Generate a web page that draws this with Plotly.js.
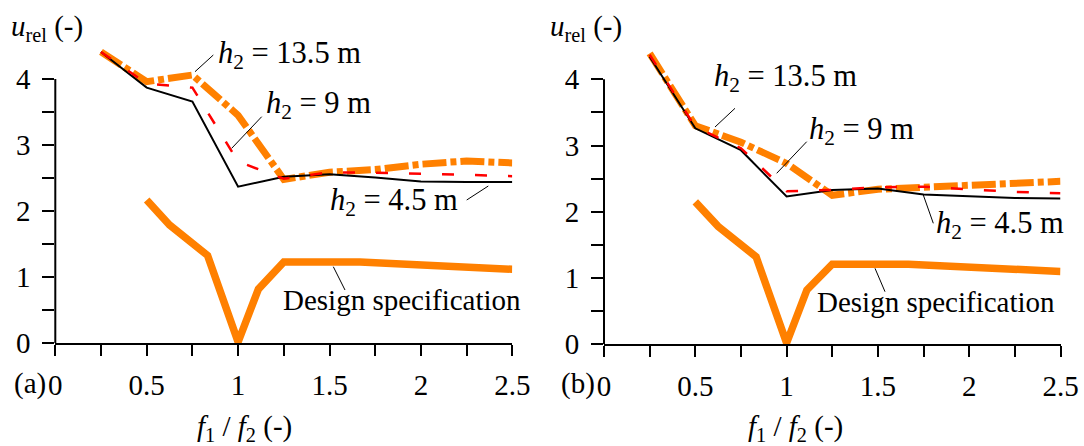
<!DOCTYPE html>
<html>
<head>
<meta charset="utf-8">
<script src="https://cdn.plot.ly/plotly-3.0.1.min.js"></script>
<style>html,body{margin:0;padding:0;background:#fff;}#chart{width:1084px;height:446px;}</style>
</head>
<body>
<div id="chart"></div>
<script>
// ---- data ----
const xH = [0.25, 0.5, 0.75, 1, 1.25, 1.5, 1.75, 2, 2.25, 2.5];
const xDesign = [0.5, 0.625, 0.833, 1, 1.111, 1.25, 1.5, 1.667, 2.5];
// panel (a)
const aH45 = [4.41, 3.87, 3.66, 2.37, 2.52, 2.56, 2.51, 2.45, 2.44, 2.44];
const aH9 = [4.41, 3.93, 3.87, 2.75, 2.49, 2.59, 2.58, 2.57, 2.55, 2.53];
const aH135 = [4.41, 3.96, 4.06, 3.45, 2.48, 2.59, 2.63, 2.71, 2.76, 2.73];
const aDesign = [2.17, 1.79, 1.33, 0.02, 0.82, 1.23, 1.23, 1.23, 1.12];
// panel (b)
const bH45 = [4.34, 3.26, 2.93, 2.23, 2.33, 2.35, 2.26, 2.23, 2.21, 2.20];
const bH9 = [4.37, 3.28, 2.96, 2.31, 2.33, 2.37, 2.38, 2.34, 2.30, 2.28];
const bH135 = [4.39, 3.30, 3.05, 2.73, 2.25, 2.34, 2.37, 2.40, 2.44, 2.46];
const bDesign = [2.15, 1.78, 1.32, 0.02, 0.82, 1.21, 1.21, 1.21, 1.10];
// ticks
const xTickVals = [0, 0.5, 1, 1.5, 2, 2.5];
const xTickText = ['0', '0.5', '1', '1.5', '2', '2.5'];
const yTickVals = [0, 1, 2, 3, 4];
const yTickText = ['0', '1', '2', '3', '4'];
// labels
const lab135 = '<i>h</i><sub>2</sub> = 13.5 m';
const lab9 = '<i>h</i><sub>2</sub> = 9 m';
const lab45 = '<i>h</i><sub>2</sub> = 4.5 m';
const labDesign = 'Design specification';
const yTitle = '<i>u</i><sub>rel</sub> (-)';
const xTitle = '<i>f</i><sub>1</sub> / <i>f</i><sub>2</sub> (-)';
const panelLabels = ['(a)', '(b)'];

// ---- style ----
const W = 1084, H = 446;
const FONT = 'Liberation Serif';
const ORANGE = '#FF8000';
const px = v => v / W;
const py = v => 1 - v / H;

function traces(xa, ya, h45, h9, h135, des) {
  return [
    {x: xDesign, y: des, xaxis: xa, yaxis: ya, mode: 'lines', line: {color: ORANGE, width: 7.5}},
    {x: xH, y: h135, xaxis: xa, yaxis: ya, mode: 'lines', line: {color: ORANGE, width: 7, dash: '24px,4px,6px,4px'}},
    {x: xH, y: h45, xaxis: xa, yaxis: ya, mode: 'lines', line: {color: '#000', width: 2}},
    {x: xH, y: h9, xaxis: xa, yaxis: ya, mode: 'lines', line: {color: '#FF0000', width: 2.5, dash: '12px,21px'}}
  ];
}

const data = [
  ...traces('x', 'y', aH45, aH9, aH135, aDesign),
  ...traces('x2', 'y2', bH45, bH9, bH135, bDesign)
];

function xAxis(domain, anchor) {
  return {
    domain: domain, anchor: anchor, range: [0, 2.5],
    tickvals: xTickVals, ticktext: xTickText,
    ticks: 'outside', ticklen: 11, tickwidth: 2, tickcolor: '#000',
    minor: {tickvals: [0.25, 0.75, 1.25, 1.75, 2.25], ticks: 'outside', ticklen: 11, tickwidth: 2, tickcolor: '#000'},
    showline: true, linewidth: 2, linecolor: '#000',
    showgrid: false, zeroline: false,
    tickfont: {family: FONT, size: 29, color: '#000'},
    ticklabelstandoff: 4
  };
}
function yAxis(domain, anchor) {
  return {
    domain: domain, anchor: anchor, range: [0, 4.48],
    tickvals: yTickVals, ticktext: yTickText,
    ticks: 'outside', ticklen: 12, tickwidth: 2, tickcolor: '#000',
    minor: {tickvals: [0.5, 1.5, 2.5, 3.5], ticks: 'outside', ticklen: 12, tickwidth: 2, tickcolor: '#000'},
    showline: false, showgrid: false, zeroline: false,
    tickfont: {family: FONT, size: 29, color: '#000'},
    ticklabelstandoff: 6
  };
}

const ax = [55.3, 604];   // x pixel of f1/f2 = 0 for each panel

function ann(text, x, y, xanchor, size) {
  return {text: text, xref: 'paper', yref: 'paper', x: px(x), y: py(y),
    xanchor: xanchor || 'left', yanchor: 'middle', showarrow: false,
    font: {family: FONT, size: size || 29, color: '#000'}};
}
function leader(x0, y0, x1, y1) {
  return {type: 'line', xref: 'paper', yref: 'paper', x0: px(x0), y0: py(y0), x1: px(x1), y1: py(y1),
    line: {color: '#000', width: 1}};
}

const annotations = [
  ann(lab135, 216, 55, 'left', 30.5), ann(lab9, 264, 105, 'left', 30.5), ann(lab45, 328, 202, 'left', 30.5), ann(labDesign, 281, 300),
  ann(lab135, 712, 78, 'left', 30.5), ann(lab9, 807, 131, 'left', 30.5), ann(lab45, 934, 225, 'left', 30.5), ann(labDesign, 815, 302),
  ann(yTitle, 9, 28), ann(yTitle, 548, 28),
  ann(xTitle, 195, 428), ann(xTitle, 746, 428),
  ann(panelLabels[0], 48, 383, 'right'), ann(panelLabels[1], 597, 383, 'right')
];

const shapes = [
  {type: 'line', xref: 'paper', yref: 'y', x0: px(ax[0]) , x1: px(ax[0]), y0: 0, y1: 4, line: {color: '#000', width: 2}},
  {type: 'line', xref: 'paper', yref: 'y2', x0: px(ax[1]), x1: px(ax[1]), y0: 0, y1: 4, line: {color: '#000', width: 2}},
  leader(213.3, 55, 195, 71.7), leader(261.7, 116.7, 231.7, 148.3),
  leader(466.7, 200, 488.3, 186), leader(333.3, 266.7, 345, 290),
  leader(735, 108.3, 715, 127), leader(806.7, 141.7, 776.7, 173.3),
  leader(933.3, 223.3, 923.3, 195), leader(885, 291.7, 875, 268.3)
];

const layout = {
  width: W, height: H,
  margin: {l: 0, r: 0, t: 0, b: 0, pad: 0},
  paper_bgcolor: '#fff', plot_bgcolor: '#fff',
  showlegend: false,
  font: {family: FONT, size: 29, color: '#000'},
  xaxis: xAxis([px(55.3), px(512.3)], 'y'),
  yaxis: yAxis([1 - 343.3 / H, 1 - 47.3 / H], 'x'),
  xaxis2: xAxis([px(604), px(1060.5)], 'y2'),
  yaxis2: yAxis([1 - 344.3 / H, 1 - 47.5 / H], 'x2'),
  annotations: annotations,
  shapes: shapes
};

Plotly.newPlot('chart', data, layout, {staticPlot: true, displayModeBar: false});
</script>
</body>
</html>
